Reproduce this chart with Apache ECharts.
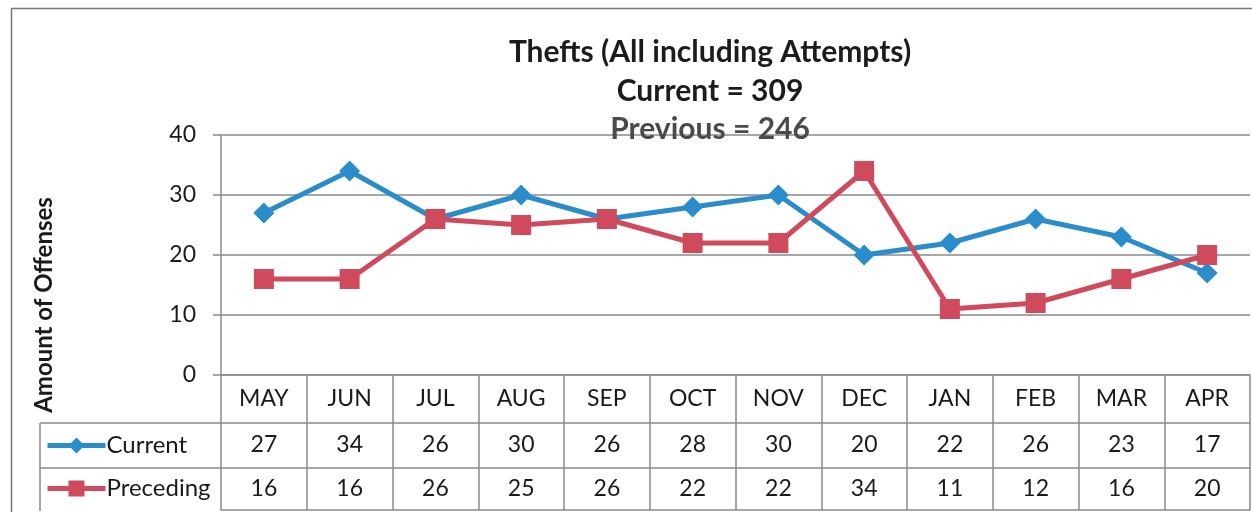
<!DOCTYPE html>
<html>
<head>
<meta charset="utf-8">
<script src="https://cdn.jsdelivr.net/npm/echarts@6/dist/echarts.min.js"></script>
<style>
html,body{margin:0;padding:0;background:#fff;}
#chart{width:1252px;height:512px;}
</style>
</head>
<body>
<div id="chart"></div>
<script>
const categories = ['MAY','JUN','JUL','AUG','SEP','OCT','NOV','DEC','JAN','FEB','MAR','APR'];
const currentValues = [27,34,26,30,26,28,30,20,22,26,23,17];
const precedingValues = [16,16,26,25,26,22,22,34,11,12,16,20];
const yTicks = [0,10,20,30,40];
const titleLines = ['Thefts (All including Attempts)','Current = 309','Previous = 246'];
const seriesNames = ['Current','Preceding'];
const yAxisName = 'Amount of Offenses';

const FONT = 'Lato, "Open Sans", sans-serif';
const GRID = {left:221, right:2, top:135, bottom:137};
const LINE = '#8a8a8a';
const BLUE = '#2b8ccb';
const RED = '#cf4a5c';
const TXT = '#1a1a1a';

const chart = echarts.init(document.getElementById('chart'));

const tableAxes = [48, 93, 135].map(off => ({
  type:'category', data:categories, position:'bottom', offset:off, boundaryGap:true,
  axisLine:{show:true, onZero:false, lineStyle:{color:LINE, width:1.5}},
  axisTick:{show:false}, axisLabel:{show:false}, splitLine:{show:false}
}));

const option = {
  animation:false,
  backgroundColor:'#fff',
  textStyle:{fontFamily:FONT},
  title:{
    text:'{a|'+titleLines[0]+'}\n{a|'+titleLines[1]+'}\n{b|'+titleLines[2]+'}',
    left:710, top:33, textAlign:'center', padding:0,
    textStyle:{
      rich:{
        a:{fontFamily:FONT, fontWeight:'bold', fontSize:30, lineHeight:39, color:'#1c1c1c'},
        b:{fontFamily:FONT, fontWeight:'bold', fontSize:30, lineHeight:37, color:'#4a4a4a'}
      }
    }
  },
  legend:{
    data:seriesNames, orient:'vertical', left:45, top:433, padding:0,
    itemWidth:58, itemHeight:20, itemGap:18,
    lineStyle:{width:5},
    textStyle:{fontFamily:FONT, fontSize:24, lineHeight:25, color:TXT, padding:[0,0,0,-4]}
  },
  grid:{left:GRID.left, right:GRID.right, top:GRID.top, bottom:GRID.bottom, containLabel:false},
  xAxis:[{
    type:'category', data:categories, boundaryGap:true, position:'bottom',
    axisLine:{show:true, onZero:false, lineStyle:{color:LINE, width:1.5}},
    axisTick:{show:true, interval:0, length:135, lineStyle:{color:LINE, width:1.5}},
    axisLabel:{
      interval:0, margin:0,
      formatter:(v,i)=>'{c|'+v+'}\n{v|'+currentValues[i]+'}\n{v|'+precedingValues[i]+'}',
      rich:{
        c:{fontFamily:FONT, fontSize:23, lineHeight:48, color:TXT},
        v:{fontFamily:FONT, fontSize:23, lineHeight:44, color:TXT}
      }
    },
    splitLine:{show:false}
  }].concat(tableAxes),
  yAxis:{
    type:'value', min:yTicks[0], max:yTicks[yTicks.length-1], interval:10,
    name:yAxisName, nameLocation:'middle', nameGap:165, nameRotate:90,
    nameTextStyle:{fontFamily:FONT, fontWeight:'bold', fontSize:24, color:TXT, padding:[0,100,0,0]},
    axisLine:{show:true, lineStyle:{color:LINE, width:1.5}},
    axisTick:{show:true, length:8, lineStyle:{color:LINE, width:1.5}},
    axisLabel:{fontFamily:FONT, fontSize:23, margin:25, color:TXT},
    splitLine:{show:true, lineStyle:{color:LINE, width:1.5}}
  },
  series:[
    {name:seriesNames[0], type:'line', data:currentValues, symbol:'diamond', symbolSize:[21,21],
     lineStyle:{color:BLUE, width:5}, itemStyle:{color:BLUE}, z:3},
    {name:seriesNames[1], type:'line', data:precedingValues, symbol:'rect', symbolSize:20,
     lineStyle:{color:RED, width:5}, itemStyle:{color:RED}, z:4}
  ],
  graphic:[
    {type:'rect', left:9, top:6, shape:{x:0,y:0,width:1242,height:505}, style:{fill:null, stroke:'#777', lineWidth:1.5}, silent:true},
    {type:'line', shape:{x1:40, y1:GRID.top+240+48, x2:GRID.left, y2:GRID.top+240+48}, style:{stroke:LINE, lineWidth:1.5}},
    {type:'line', shape:{x1:40, y1:GRID.top+240+93, x2:GRID.left, y2:GRID.top+240+93}, style:{stroke:LINE, lineWidth:1.5}},
    {type:'line', shape:{x1:40, y1:GRID.top+240+48, x2:40, y2:511}, style:{stroke:LINE, lineWidth:1.5}}
  ]
};
chart.setOption(option);
</script>
</body>
</html>
